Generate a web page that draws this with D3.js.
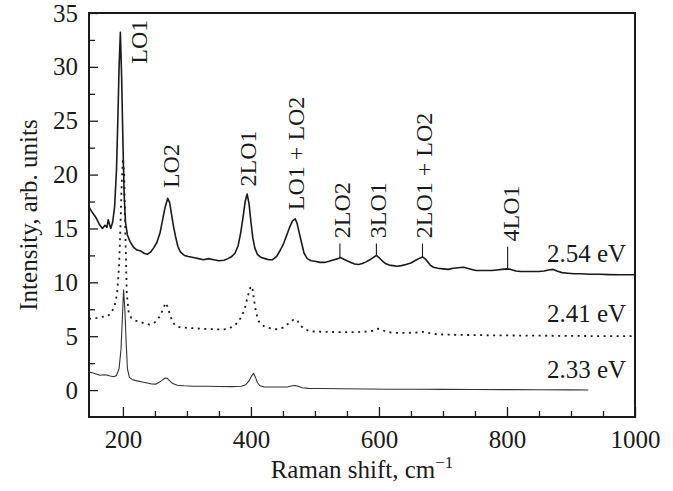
<!DOCTYPE html>
<html>
<head>
<meta charset="utf-8">
<script src="https://cdn.jsdelivr.net/npm/d3@7"></script>
<style>
  body { margin: 0; background: #fff; }
  text { font-family: "Liberation Serif", "Times New Roman", serif; fill: #1a1a1a; }
</style>
</head>
<body>
<div id="chart"></div>
<script>
// 2.54 eV spectrum
var shift254 = [147,152,158,163,168,172,175,177,179,181,184,187,190,192,194,196,198,200,202,204,207,211,216,222,228,233,238,243,248,253,258,262,266,270,273,276,279,282,286,290,296,302,310,318,326,334,342,350,358,364,370,375,380,384,388,391,394,397,400,403,406,410,416,422,428,434,440,446,451,456,461,465,469,472,475,479,483,488,494,500,508,515,522,530,536,540,545,550,556,562,568,574,580,586,591,596,600,605,610,616,622,628,635,642,650,656,662,668,672,676,680,685,692,700,708,716,724,732,738,745,752,760,768,776,784,792,800,806,814,822,830,840,850,858,865,872,878,886,895,905,915,930,945,960,975,990,1000];
var int254 = [17.0,16.5,16.0,15.4,15.0,15.3,15.1,15.8,15.4,15.0,15.6,17.0,20.5,25.0,30.0,33.2,29.0,23.0,18.0,15.6,14.4,13.8,13.3,13.0,12.9,12.7,12.6,12.8,13.2,13.7,14.6,15.8,17.0,17.8,17.4,16.3,15.2,14.3,13.3,12.8,12.5,12.4,12.3,12.2,12.1,12.2,12.1,12.0,12.05,12.2,12.4,12.7,13.4,14.6,16.2,17.5,18.2,17.3,15.6,14.1,13.2,12.6,12.3,12.2,12.1,12.1,12.4,13.0,13.6,14.4,15.2,15.7,15.9,15.5,14.7,13.7,12.7,12.2,12.0,11.95,11.85,11.85,11.95,12.1,12.2,12.3,12.15,12.0,11.85,11.7,11.65,11.75,11.9,12.1,12.3,12.5,12.3,12.0,11.75,11.6,11.55,11.5,11.55,11.65,11.8,12.0,12.2,12.35,12.2,11.9,11.6,11.4,11.3,11.25,11.2,11.3,11.35,11.4,11.3,11.2,11.1,11.1,11.1,11.1,11.15,11.2,11.25,11.2,11.05,11.0,11.0,11.0,11.0,11.05,11.15,11.2,11.05,10.9,10.85,10.8,10.8,10.75,10.75,10.72,10.7,10.7,10.7];

// 2.41 eV spectrum
var shift241 = [147,153,160,168,176,182,187,191,194,196,198,200,202,204,206,209,213,220,228,236,242,248,254,259,263,267,270,273,277,282,290,300,315,330,345,355,365,373,380,386,391,395,399,402,405,408,412,418,426,434,442,450,457,463,468,473,478,484,492,505,520,535,550,565,580,590,597,602,610,620,635,650,662,670,678,690,710,730,750,780,820,870,920,960,1000];
var int241 = [6.6,6.65,6.7,6.8,6.85,7.2,7.8,9.0,11.5,15.0,19.0,21.5,20.0,14.0,9.0,7.2,6.7,6.45,6.3,6.15,6.08,6.2,6.5,7.0,7.6,8.1,7.7,7.1,6.4,5.95,5.82,5.78,5.72,5.68,5.64,5.62,5.7,5.95,6.3,6.9,7.7,8.7,9.5,9.65,8.3,7.2,6.4,6.0,5.8,5.68,5.64,5.8,6.1,6.4,6.6,6.4,5.95,5.65,5.46,5.42,5.4,5.38,5.37,5.38,5.42,5.5,5.7,5.65,5.45,5.32,5.3,5.32,5.35,5.4,5.3,5.18,5.14,5.12,5.1,5.08,5.06,5.04,5.02,5.0,5.0];

// 2.33 eV spectrum
var shift233 = [147,152,158,164,170,175,180,186,190,194,197,199,201,203,205,207,210,215,222,230,238,245,251,256,261,266,269,273,278,285,295,310,330,350,370,385,392,397,401,404,407,410,414,420,430,445,458,465,469,474,480,490,510,540,580,620,660,700,750,800,850,900,927];
var int233 = [1.65,1.6,1.5,1.38,1.42,1.4,1.3,1.24,1.35,2.0,3.8,6.5,9.3,7.5,4.5,2.0,1.2,0.95,0.85,0.75,0.65,0.56,0.55,0.7,0.9,1.12,1.1,0.85,0.6,0.45,0.4,0.36,0.35,0.33,0.32,0.35,0.5,0.85,1.3,1.55,1.2,0.7,0.4,0.3,0.28,0.28,0.3,0.4,0.43,0.35,0.22,0.16,0.14,0.12,0.1,0.08,0.07,0.06,0.05,0.04,0.03,0.02,0.0];

var seriesNames = ["2.54 eV", "2.41 eV", "2.33 eV"];
var seriesLabelY = [11.9, 6.3, 1.15];

var peakLabels = ["LO1", "LO2", "2LO1", "LO1 + LO2", "2LO2", "3LO1", "2LO1 + LO2", "4LO1"];
var peakLabelX = [225, 274, 394, 470, 541, 598, 670, 806];
var peakLabelY = [30.3, 18.75, 18.9, 16.7, 14.1, 14.1, 14.1, 13.8];
var markerX = [539, 596, 668, 801];
var markerTop = [13.6, 13.6, 13.6, 13.3];

var xMajor = [200, 400, 600, 800, 1000];
var xMinor = [250, 300, 350, 450, 500, 550, 650, 700, 750, 850, 900, 950];
var yMajor = [0, 5, 10, 15, 20, 25, 30, 35];
var yMinor = [2.5, 7.5, 12.5, 17.5, 22.5, 27.5, 32.5];

var w = 673;
var h = 491;
var margin = { top: 13, right: 38, bottom: 74, left: 89 };
var iw = w - margin.left - margin.right;
var ih = h - margin.top - margin.bottom;

var svg = d3.select("#chart").append("svg").attr("width", w).attr("height", h);
var g = svg.append("g").attr("transform", "translate(" + margin.left + "," + margin.top + ")");

var x = d3.scaleLinear().domain([147, 1000]).range([0, iw]);
var y = d3.scaleLinear().domain([-2.5, 35]).range([ih, 0]);

function pairs(xs, ys) {
  return xs.map(function (d, i) { return [d, ys[i]]; });
}

var line = d3.line()
  .x(function (d) { return x(d[0]); })
  .y(function (d) { return y(d[1]); });

// axes with inward ticks
g.append("g").attr("transform", "translate(0," + ih + ")")
  .call(d3.axisBottom(x).tickValues(xMajor).tickSize(-10).tickPadding(13).tickFormat(d3.format("d")));
g.append("g").attr("transform", "translate(0," + ih + ")")
  .call(d3.axisBottom(x).tickValues(xMinor).tickSize(-6).tickFormat(""));
g.append("g")
  .call(d3.axisLeft(y).tickValues(yMajor).tickSize(-9).tickPadding(11).tickFormat(d3.format("d")));
g.append("g")
  .call(d3.axisLeft(y).tickValues(yMinor).tickSize(-6).tickFormat(""));

g.selectAll(".domain").remove();
g.selectAll(".tick line").attr("stroke", "#1a1a1a").attr("stroke-width", 1.3);
g.selectAll(".tick text").attr("font-size", "25px").attr("font-family", "Liberation Serif").attr("fill", "#1a1a1a");

g.append("rect")
  .attr("width", iw).attr("height", ih)
  .attr("fill", "none").attr("stroke", "#1a1a1a").attr("stroke-width", 2);

// spectra
g.append("path").datum(pairs(shift254, int254))
  .attr("fill", "none").attr("stroke", "#1a1a1a").attr("stroke-width", 1.6)
  .attr("stroke-linejoin", "round").attr("d", line);
g.append("path").datum(pairs(shift241, int241))
  .attr("fill", "none").attr("stroke", "#1a1a1a").attr("stroke-width", 1.8)
  .attr("stroke-dasharray", "2,4.5").attr("d", line);
g.append("path").datum(pairs(shift233, int233))
  .attr("fill", "none").attr("stroke", "#333").attr("stroke-width", 1.1)
  .attr("stroke-linejoin", "round").attr("d", line);

// peak markers
var interp = function (v) {
  var i = d3.bisectLeft(shift254, v);
  var x0 = shift254[i - 1], x1 = shift254[i];
  return int254[i - 1] + (int254[i] - int254[i - 1]) * (v - x0) / (x1 - x0);
};
g.selectAll(".marker")
  .data(markerX)
  .enter()
  .append("line")
  .attr("x1", function (d) { return x(d); })
  .attr("x2", function (d) { return x(d); })
  .attr("y1", function (d, i) { return y(markerTop[i]); })
  .attr("y2", function (d) { return y(interp(d)); })
  .attr("stroke", "#1a1a1a")
  .attr("stroke-width", 1.1);

g.selectAll(".peak")
  .data(peakLabels)
  .enter()
  .append("text")
  .attr("transform", function (d, i) {
    return "translate(" + x(peakLabelX[i]) + "," + y(peakLabelY[i]) + ") rotate(-90)";
  })
  .attr("dy", "0.35em")
  .attr("font-size", "24px")
  .text(function (d) { return d; });

g.selectAll(".series-label")
  .data(seriesNames)
  .enter()
  .append("text")
  .attr("x", x(986))
  .attr("y", function (d, i) { return y(seriesLabelY[i]); })
  .attr("text-anchor", "end")
  .attr("font-size", "25px")
  .text(function (d) { return d; });

// axis titles
var xt = svg.append("text")
  .attr("x", margin.left + iw / 2)
  .attr("y", 478)
  .attr("text-anchor", "middle")
  .attr("font-size", "25px");
xt.append("tspan").text("Raman shift, cm");
xt.append("tspan").attr("dy", -10).attr("font-size", "17px").text("\u22121");

svg.append("text")
  .attr("transform", "translate(37," + (margin.top + ih / 2) + ") rotate(-90)")
  .attr("text-anchor", "middle")
  .attr("font-size", "25px")
  .text("Intensity, arb. units");
</script>
</body>
</html>
